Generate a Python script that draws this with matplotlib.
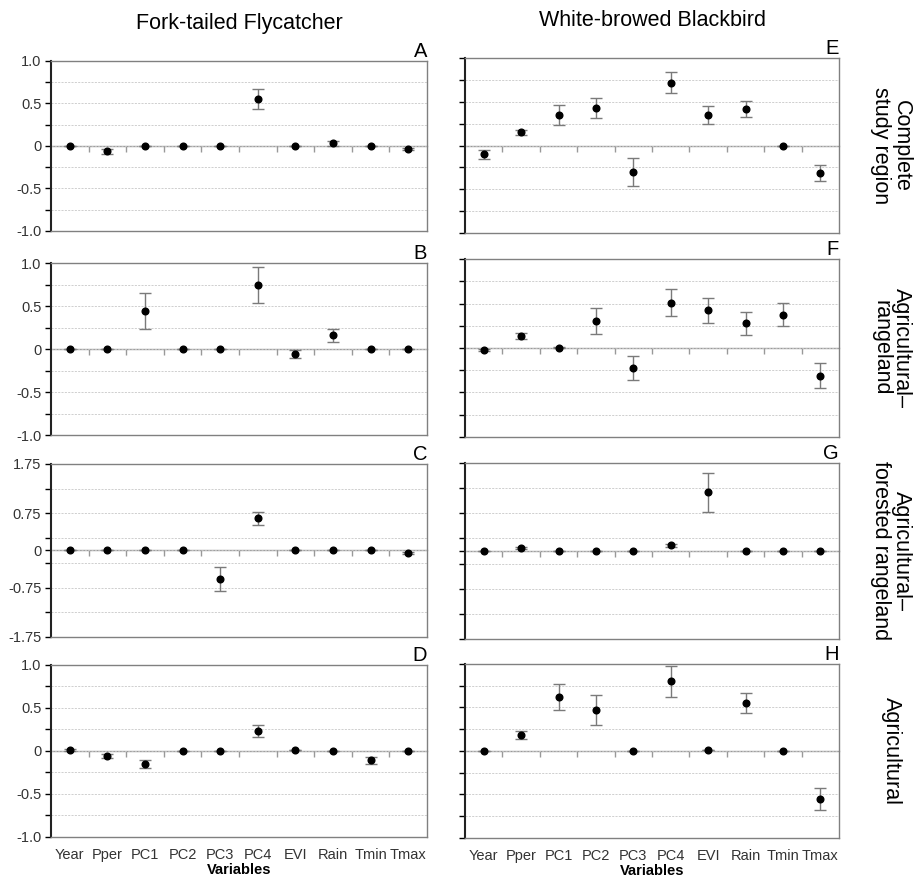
import matplotlib
matplotlib.use("Agg")
import matplotlib.pyplot as plt
from matplotlib.ticker import FixedLocator, FixedFormatter
import numpy as np

plt.rcParams['font.family'] = ['Liberation Sans', 'DejaVu Sans']

variables = ["Year", "Pper", "PC1", "PC2", "PC3", "PC4", "EVI", "Rain", "Tmin", "Tmax"]
species = ["Fork-tailed Flycatcher", "White-browed Blackbird"]
regions = ["Complete\nstudy region", "Agricultural\u2013\nrangeland",
           "Agricultural\u2013\nforested rangeland", "Agricultural"]
letters = [["A", "B", "C", "D"], ["E", "F", "G", "H"]]

# Fork-tailed Flycatcher: coefficient and error per variable
ftf_complete = [0, -0.06, 0, 0, 0, 0.55, 0, 0.03, 0, -0.035]
ftf_complete_err = [0, 0.03, 0, 0, 0, 0.12, 0, 0.025, 0, 0.015]
ftf_range = [0, 0, 0.44, 0, 0, 0.75, -0.06, 0.16, 0, 0]
ftf_range_err = [0, 0, 0.21, 0, 0, 0.21, 0.045, 0.075, 0, 0]
ftf_forest = [0, 0, 0, 0, -0.575, 0.65, 0, 0, 0, -0.06]
ftf_forest_err = [0, 0, 0, 0, 0.25, 0.13, 0, 0, 0, 0.02]
ftf_agri = [0.015, -0.06, -0.15, 0, 0, 0.23, 0.008, 0, -0.11, 0]
ftf_agri_err = [0.01, 0.02, 0.05, 0, 0, 0.07, 0, 0, 0.045, 0]

# White-browed Blackbird
wbb_complete = [-0.10, 0.15, 0.35, 0.43, -0.30, 0.72, 0.35, 0.415, 0, -0.31]
wbb_complete_err = [0.05, 0.025, 0.11, 0.11, 0.16, 0.125, 0.10, 0.09, 0, 0.09]
wbb_range = [-0.02, 0.135, 0.005, 0.30, -0.23, 0.51, 0.425, 0.28, 0.375, -0.31]
wbb_range_err = [0.01, 0.03, 0.01, 0.145, 0.135, 0.155, 0.14, 0.13, 0.13, 0.145]
wbb_forest = [0, 0.055, 0, 0, 0, 0.115, 1.17, 0, 0, 0]
wbb_forest_err = [0, 0.02, 0, 0, 0, 0.03, 0.39, 0, 0, 0]
wbb_agri = [0, 0.18, 0.62, 0.47, 0, 0.80, 0.01, 0.55, 0, -0.55]
wbb_agri_err = [0, 0.045, 0.15, 0.17, 0, 0.18, 0, 0.115, 0, 0.125]

panels = [
    [(ftf_complete, ftf_complete_err), (ftf_range, ftf_range_err),
     (ftf_forest, ftf_forest_err), (ftf_agri, ftf_agri_err)],
    [(wbb_complete, wbb_complete_err), (wbb_range, wbb_range_err),
     (wbb_forest, wbb_forest_err), (wbb_agri, wbb_agri_err)],
]

# y scales: normal rows and the wider "forested" row
scale_small = dict(lim=1.0, major=[-1.0, -0.5, 0, 0.5, 1.0],
                   labels=["-1.0", "-0.5", "0", "0.5", "1.0"],
                   minor=[-0.75, -0.25, 0.25, 0.75])
scale_big = dict(lim=1.75, major=[-1.75, -0.75, 0, 0.75, 1.75],
                 labels=["-1.75", "-0.75", "0", "0.75", "1.75"],
                 minor=[-1.25, -0.25, 0.25, 1.25])
row_scales = [scale_small, scale_small, scale_big, scale_small]

# axes rectangles [left, bottom, width, height] per column / row
col_x = [(0.0553, 0.4074), (0.5038, 0.4052)]
row_y = [[(0.7378, 0.1930), (0.5062, 0.1952), (0.2770, 0.1964), (0.0500, 0.1952)],
         [(0.7355, 0.1986), (0.5040, 0.2020), (0.2747, 0.1998), (0.0490, 0.1973)]]

fig = plt.figure(figsize=(9.23, 8.81), dpi=100)
x = np.arange(1, len(variables) + 1)
bounds = np.arange(0.5, len(variables) + 1, 1.0)

for c in range(2):
    for r in range(4):
        left, width = col_x[c]
        bottom, height = row_y[c][r]
        ax = fig.add_axes([left, bottom, width, height])
        vals, errs = panels[c][r]
        sc = row_scales[r]

        ax.errorbar(x, vals, yerr=errs, fmt='o', color='black', markersize=4.8,
                    ecolor='#7a7a7a', elinewidth=1.0, capsize=4, capthick=1.0, zorder=5)

        ax.set_xlim(0.5, len(variables) + 0.5)
        ax.set_ylim(-sc['lim'], sc['lim'])
        ax.yaxis.set_major_locator(FixedLocator(sc['major']))
        ax.yaxis.set_minor_locator(FixedLocator(sc['minor']))
        if c == 0:
            ax.yaxis.set_major_formatter(FixedFormatter(sc['labels']))
        else:
            ax.set_yticklabels([])
        ax.tick_params(axis='y', which='both', direction='out', length=4,
                       width=1, color='black', labelsize=10.5, labelcolor='#333333', pad=3)
        ax.grid(axis='y', which='both', linestyle=(0, (2.5, 1.5)), color='#c8c8c8', linewidth=0.6)
        ax.set_axisbelow(True)

        ax.set_xticks(x)
        if r == 3:
            ax.set_xticklabels(variables, fontsize=10.5, color='#333333')
            ax.set_xlabel("Variables", fontsize=10.5, fontweight='bold', labelpad=1)
        else:
            ax.set_xticklabels([])
        ax.tick_params(axis='x', length=0, pad=8)

        for s in ['top', 'right', 'bottom']:
            ax.spines[s].set_color('#808080')
            ax.spines[s].set_linewidth(1.0)
        ax.spines['left'].set_color('#222222')
        ax.spines['left'].set_linewidth(1.5)

        # zero line with category-boundary ticks
        zero = ax.secondary_xaxis(0.5)
        zero.set_alignment('bottom')
        zero.set_xticks(bounds[1:-1])
        zero.set_xticklabels([])
        zero.tick_params(direction='out', length=4, width=1, color='#999999')
        zero.spines['bottom'].set_color('#999999')
        zero.spines['bottom'].set_linewidth(1.0)

        ax.text(1.0, 1.0, letters[c][r], transform=ax.transAxes,
                ha='right', va='bottom', fontsize=14.5)

        if r == 0:
            ax.set_title(species[c], fontsize=15.5, pad=23)
        if c == 1:
            ax.text(1.14, 0.5, regions[r], transform=ax.transAxes, rotation=-90,
                    ha='center', va='center', fontsize=15.5, linespacing=1.0)

fig.savefig("out.png", dpi=100)
